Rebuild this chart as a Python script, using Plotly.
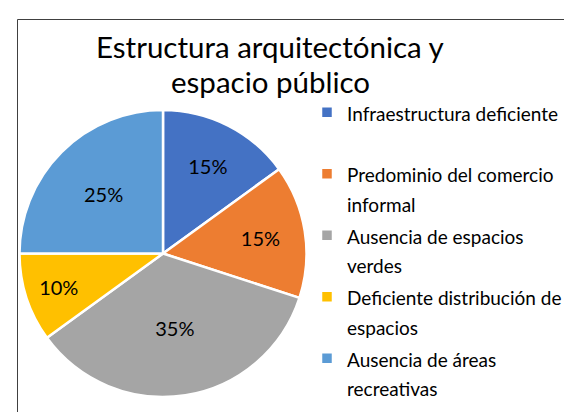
import plotly.graph_objects as go

labels = ["Infraestructura deficiente", "Predominio del comercio informal",
          "Ausencia de espacios verdes", "Deficiente distribución de espacios",
          "Ausencia de áreas recreativas"]
legend_lines = [["Infraestructura deficiente", " "], ["Predominio del comercio", "informal"],
                ["Ausencia de espacios", "verdes"], ["Deficiente distribución de", "espacios"],
                ["Ausencia de áreas", "recreativas"]]
values = [15, 15, 35, 10, 25]
colors = ["#4472C4", "#ED7D31", "#A5A5A5", "#FFC000", "#5B9BD5"]
title_lines = ["Estructura arquitectónica y", "espacio público"]

W, H = 572, 412
LEG_FS = 19
names = ["<br>".join(f'<span style="font-size:{LEG_FS}px">{l}</span>' for l in ls) for ls in legend_lines]

fig = go.Figure(go.Pie(
    labels=names, values=values, sort=False, direction="clockwise", rotation=0,
    marker=dict(colors=colors, line=dict(color="white", width=2.5)),
    textinfo="percent", textposition="inside", insidetextorientation="horizontal",
    textfont=dict(size=20, color="black", family="Lato"),
    domain=dict(x=[11/W, 299/W], y=[23/H, 310/H]),
    customdata=labels, hovertemplate="%{customdata}: %{percent}<extra></extra>",
))
fig.update_layout(
    width=W, height=H, margin=dict(l=0, r=0, t=0, b=0),
    paper_bgcolor="white", plot_bgcolor="white",
    font=dict(family="Lato", color="black"),
    annotations=[dict(text=title_lines[0], x=262/W, y=1-39/H, xref="paper", yref="paper",
                      xanchor="center", yanchor="middle", showarrow=False,
                      font=dict(size=29.5, color="black", family="Lato")),
                 dict(text=title_lines[1], x=262/W, y=1-73/H, xref="paper", yref="paper",
                      xanchor="center", yanchor="middle", showarrow=False,
                      font=dict(size=29.5, color="black", family="Lato"))],
    legend=dict(x=299/W, y=1-83/H, xanchor="left", yanchor="top", valign="top",
                font=dict(size=22.5, color="black", family="Lato"), itemwidth=30,
                bgcolor="rgba(0,0,0,0)"),
    shapes=[dict(type="rect", xref="paper", yref="paper", x0=9.5/W, x1=1.05, y0=-0.05, y1=1-11.5/H,
                 line=dict(color="#404040", width=1))],
)
fig.write_html("out.html")
